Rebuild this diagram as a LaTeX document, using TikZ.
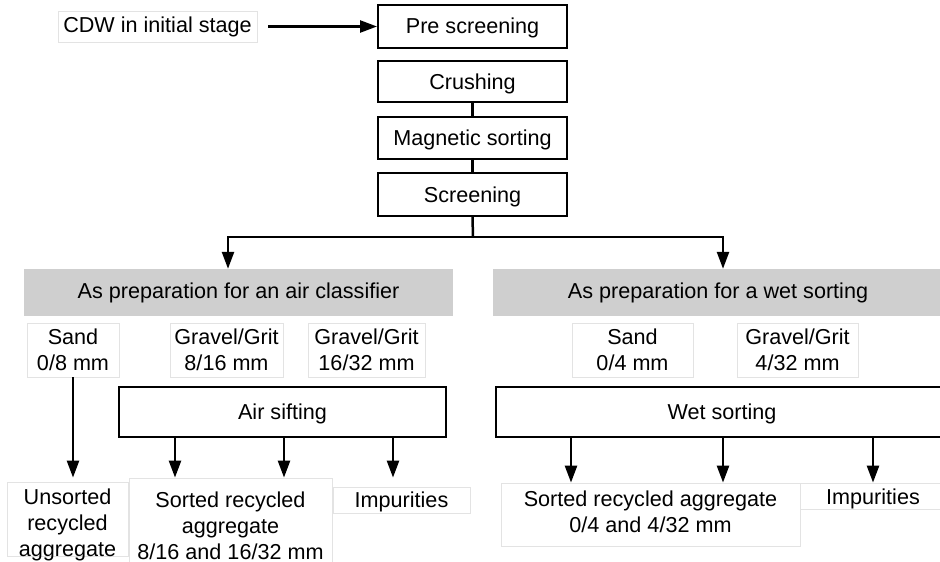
\documentclass[tikz,border=0pt]{standalone}
\usepackage{fontspec}
\setmainfont{Liberation Sans}
\usetikzlibrary{arrows.meta}
\begin{document}
\begin{tikzpicture}[x=1pt,y=-1pt,
  base/.style={rectangle, inner sep=0pt, align=center, font=\fontsize{21.6}{26}\selectfont, text=black},
  proc/.style={base, draw=black, line width=2pt, text height=19.5pt, text depth=4.5pt},
  lbl/.style={base, draw=black!11, line width=0.8pt},
  txt/.style={base},
  hdr/.style={base, fill=black!19},
  conn/.style={line width=2.5pt},
  arr/.style={conn, -{Triangle[length=17pt,width=12pt]}}]
\useasboundingbox (0,0) rectangle (940,562);
\clip (0,0) rectangle (940,562);
% top chain
\node[lbl, minimum width=199pt, minimum height=31pt] (cdw) at (157.5,26.5) {CDW in initial stage};
\node[proc, minimum width=189pt, minimum height=43pt] (pre) at (472.5,26.5) {Pre screening};
\node[proc, minimum width=189pt, minimum height=41pt] (crush) at (472.5,81.5) {Crushing};
\node[proc, minimum width=189pt, minimum height=42pt] (mag) at (472.5,138) {Magnetic sorting};
\node[proc, minimum width=189pt, minimum height=43pt] (screen) at (472.5,194.5) {Screening};
% headers
\node[hdr, minimum width=429pt, minimum height=47pt] (hdrL) at (238.5,292.5) {As preparation for an air classifier};
\node[hdr, minimum width=450pt, minimum height=47pt] (hdrR) at (718,292.5) {As preparation for a wet sorting};
% left fractions
\node[lbl, minimum width=92pt, minimum height=54pt] (sand8) at (73,350) {Sand\\0/8 mm};
\node[lbl, minimum width=113pt, minimum height=54pt] (grav16) at (226.5,350) {Gravel/Grit\\8/16 mm};
\node[lbl, minimum width=117pt, minimum height=54pt] (grav32) at (366.5,350) {Gravel/Grit\\16/32 mm};
\node[proc, minimum width=327pt, minimum height=50pt] (air) at (282.5,412) {Air sifting};
% right fractions
\node[lbl, minimum width=121pt, minimum height=54pt] (sand4) at (632.5,350) {Sand\\0/4 mm};
\node[lbl, minimum width=121pt, minimum height=54pt] (grav4) at (797.5,350) {Gravel/Grit\\4/32 mm};
\node[proc, minimum width=452pt, minimum height=50pt] (wet) at (722,412) {Wet sorting};
% outputs (boxes)
\node[lbl, minimum width=121pt, minimum height=74pt] (uns) at (67.5,519) {};
\node[lbl, minimum width=203pt, minimum height=92pt] (sortL) at (230.5,524) {};
\node[lbl, minimum width=137pt, minimum height=26pt] (impL) at (401.5,500) {};
\node[lbl, minimum width=299pt, minimum height=63pt] (sortR) at (650.5,514.5) {};
\node[lbl, minimum width=146pt, minimum height=26pt] (impR) at (873,496) {};
% outputs (texts)
\node[txt] (unsT) at (67.5,525) {Unsorted\\recycled\\aggregate};
\node[txt] (sortLT) at (230.5,525.5) {Sorted recycled\\aggregate\\8/16 and 16/32 mm};
\node[txt] (impLT) at (401.5,502) {Impurities};
\node[txt] (sortRT) at (650.5,511.5) {Sorted recycled aggregate\\0/4 and 4/32 mm};
\node[txt] (impRT) at (873,499) {Impurities};
% helper coordinates
\coordinate (jn) at (473,237);
\coordinate (cL) at (228,0);
\coordinate (cR) at (723,0);
\coordinate (a1) at (175,0);
\coordinate (a2) at (284,0);
\coordinate (a3) at (393,0);
\coordinate (w1) at (571,0);
\coordinate (w2) at (723,0);
\coordinate (w3) at (873,0);
% connectors
\draw[arr, shorten <=11pt] (cdw.east) -- (pre.west);
\draw[conn] (crush.south) -- (mag.north);
\draw[conn] (mag.south) -- (screen.north);
\draw[conn] (screen.south) -- (jn);
\draw[arr] (jn) -| (hdrL.north -| cL);
\draw[arr] (jn) -| (hdrR.north -| cR);
\draw[arr] (sand8.south) -- (sortL.north -| sand8.south);
\draw[arr] (air.south -| a1) -- (sortL.north -| a1);
\draw[arr] (air.south -| a2) -- (sortL.north -| a2);
\draw[arr] (air.south -| a3) -- (sortL.north -| a3);
\draw[arr] (wet.south -| w1) -- (sortR.north -| w1);
\draw[arr] (wet.south -| w2) -- (sortR.north -| w2);
\draw[arr] (wet.south -| w3) -- (impR.north -| w3);
\end{tikzpicture}
\end{document}
